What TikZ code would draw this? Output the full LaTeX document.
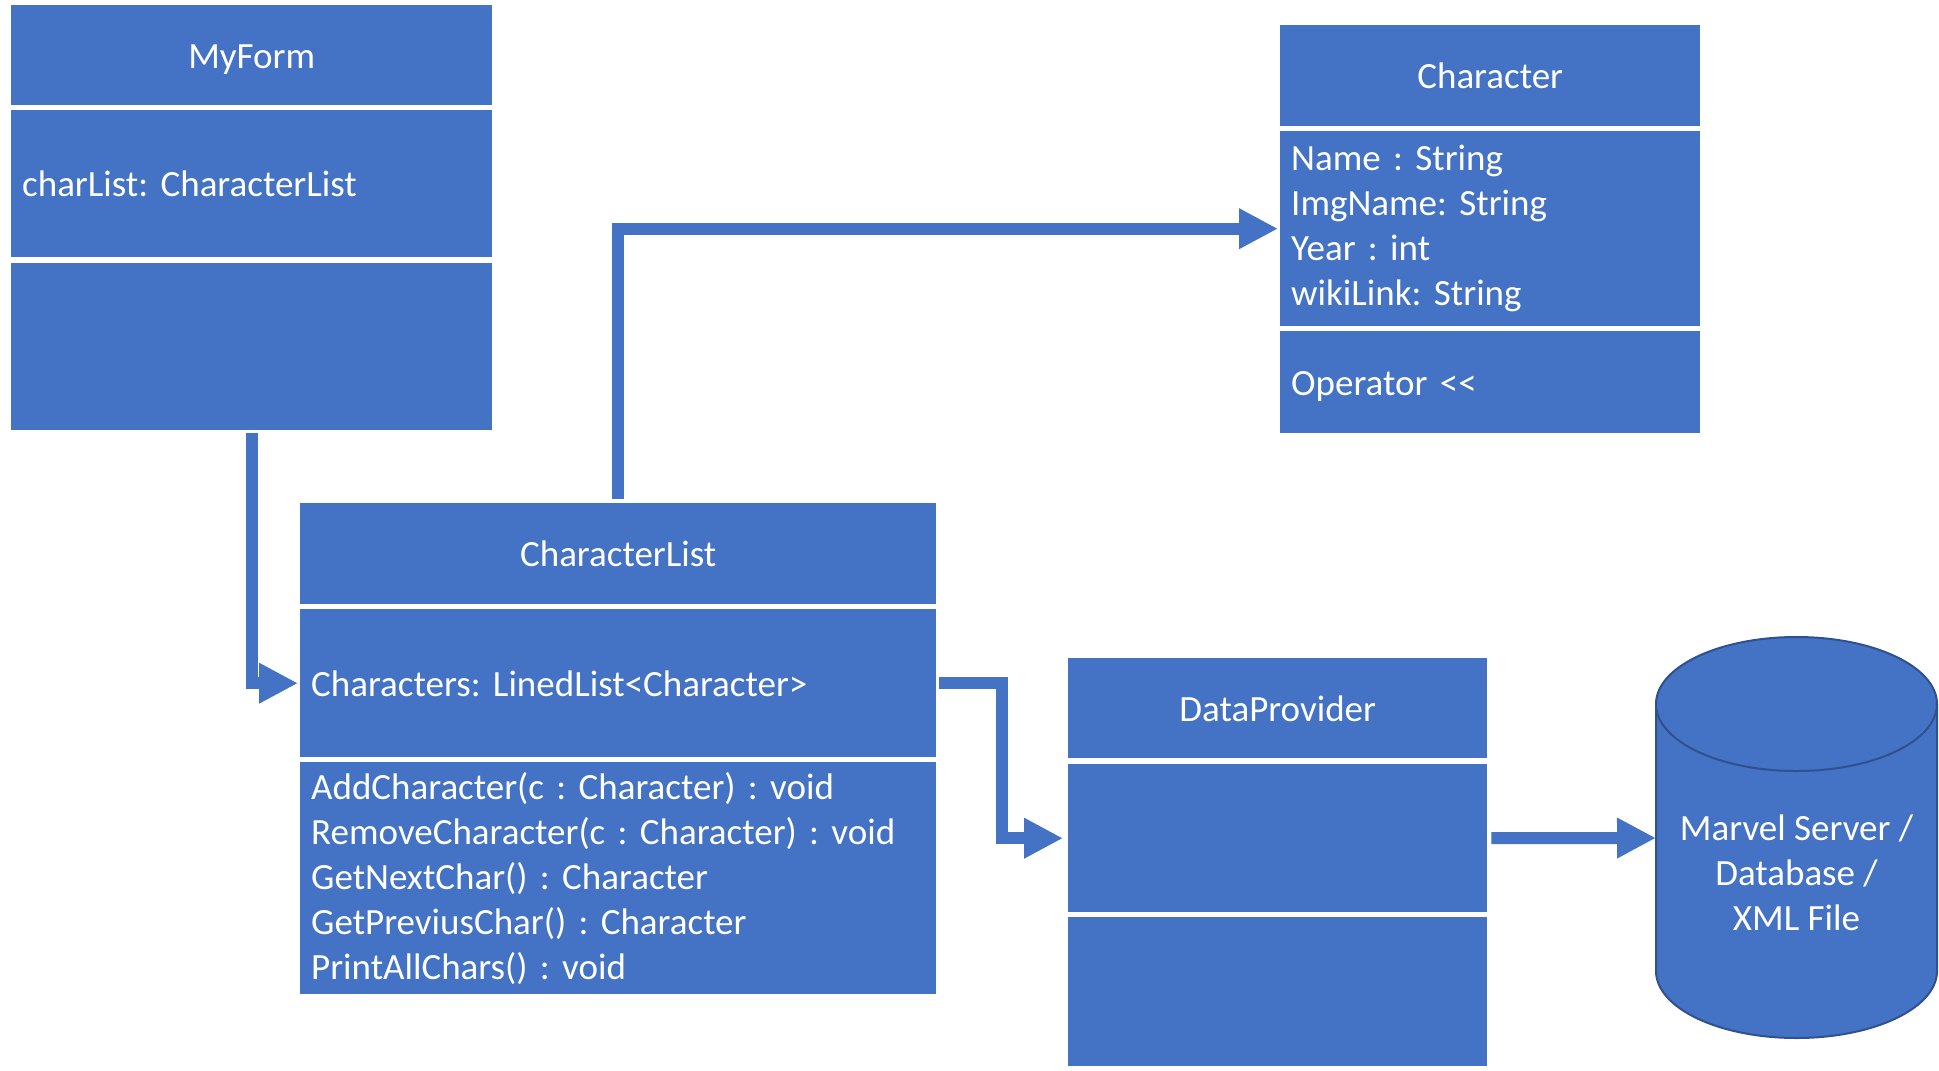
\documentclass[tikz,border=0pt]{standalone}
\usepackage{fontspec}
\setmainfont{Carlito}
\frenchspacing
\usetikzlibrary{arrows.meta}
\definecolor{ublue}{HTML}{4472C4}
\definecolor{uedge}{HTML}{2F528F}
\begin{document}
\begin{tikzpicture}[x=1pt,y=-1pt,
  comp/.style={fill=ublue, draw=none, text=white, anchor=north west, inner xsep=11pt, inner ysep=0pt, font=\fontsize{37}{45}\selectfont\frenchspacing},
  oneline/.style={text height=26pt, text depth=0pt},
  hdr/.style={comp, oneline, align=center},
  attr/.style={comp, align=left},
  conn/.style={draw=ublue, line width=12pt},
  arr/.style={conn, -{Triangle[length=39pt,width=38pt]}},
  dbtext/.style={text=white, align=center, font=\fontsize{37}{45}\selectfont\frenchspacing, inner sep=0pt}
]
\useasboundingbox (0,0) rectangle (1939,1071);

% MyForm
\node[hdr, minimum width=481pt, minimum height=100pt] (mf1) at (11,5) {MyForm};
\node[attr, oneline, minimum width=481pt, minimum height=147pt, text width=459pt] (mf2) at (11,110) {charList: CharacterList};
\node[comp, minimum width=481pt, minimum height=167pt] (mf3) at (11,263) {};

% CharacterList
\node[hdr, minimum width=636pt, minimum height=101pt] (cl1) at (300,503) {CharacterList};
\node[attr, oneline, minimum width=636pt, minimum height=148pt, text width=614pt] (cl2) at (300,609) {Characters: LinedList<Character>};
\node[attr, minimum width=636pt, minimum height=232pt, text width=614pt] (cl3) at (300,762) {AddCharacter(c : Character) : void\\RemoveCharacter(c : Character) : void\\GetNextChar() : Character\\GetPreviusChar() : Character\\PrintAllChars() : void};

% Character
\node[hdr, minimum width=420pt, minimum height=101pt] (ch1) at (1280,25) {Character};
\node[attr, minimum width=420pt, minimum height=195pt, text width=398pt] (ch2) at (1280,131) {Name : String\\ImgName: String\\Year : int\\wikiLink: String};
\node[attr, oneline, minimum width=420pt, minimum height=102pt, text width=398pt] (ch3) at (1280,331) {Operator <{}<};

% DataProvider
\node[hdr, minimum width=419pt, minimum height=100pt] (dp1) at (1068,658) {DataProvider};
\node[comp, minimum width=419pt, minimum height=148pt] (dp2) at (1068,764) {};
\node[comp, minimum width=419pt, minimum height=149pt] (dp3) at (1068,917) {};

% Database cylinder
\fill[ublue] (1656,704) rectangle (1937,971);
\fill[ublue] (1796.5,971) ellipse [x radius=140.5pt, y radius=67pt];
\draw[uedge, line width=2pt] (1656,704) -- (1656,971) arc[start angle=180, end angle=360, x radius=140.5pt, y radius=67pt] -- (1937,704);
\filldraw[fill=ublue, draw=uedge, line width=2pt] (1796.5,704) ellipse [x radius=140.5pt, y radius=67pt];
\node[dbtext] (db) at (1796.5,873) {Marvel Server /\\Database /\\XML File};
\coordinate (dbw) at (1656,838);

% Connectors
\draw[arr] ([yshift=-3pt]mf3.south) |- ([xshift=-2pt]cl2.west);
\draw[arr] ([yshift=4pt]cl1.north) |- ([xshift=-2pt]ch2.west);
\draw[arr] ([xshift=3pt]cl2.east) -- ++(63,0) |- ([xshift=-5pt]dp2.west);
\draw[arr] ([xshift=4pt]dp2.east) -- (dbw);
\end{tikzpicture}
\end{document}
